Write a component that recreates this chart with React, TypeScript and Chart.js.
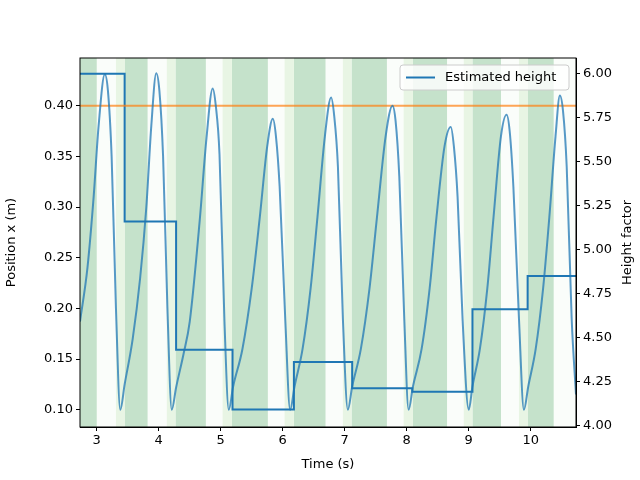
import React, { useEffect, useRef } from 'react';
import { Chart, registerables } from 'chart.js';
Chart.register(...registerables);

const xRange = [2.73, 10.73];
const xTicks = [3, 4, 5, 6, 7, 8, 9, 10];
const leftTicks = [0.1, 0.15, 0.2, 0.25, 0.3, 0.35, 0.4];
const rightTicks = [4.0, 4.25, 4.5, 4.75, 5.0, 5.25, 5.5, 5.75, 6.0];

// shaded phases [start, end]
const darkBands = [[2.73, 3.0], [3.45, 3.82], [4.27, 4.76], [5.18, 5.76], [6.18, 6.69], [7.11, 7.68], [8.1, 8.65], [9.06, 9.52], [9.95, 10.37]];
const lightBands = [[3.31, 3.45], [4.13, 4.27], [5.03, 5.18], [6.03, 6.18], [6.97, 7.11], [7.95, 8.1], [8.92, 9.06], [9.81, 9.95]];

const posT = [2.73, 2.85, 2.95, 3.03, 3.13, 3.18, 3.24, 3.31, 3.38,
	3.45, 3.58, 3.7, 3.8, 3.88, 3.96, 4.01, 4.07, 4.14, 4.21,
	4.28, 4.4, 4.5, 4.66, 4.77, 4.87, 4.92, 4.98, 5.06, 5.13,
	5.2, 5.35, 5.5, 5.63, 5.75, 5.84, 5.89, 5.95, 6.04, 6.12,
	6.19, 6.32, 6.45, 6.56, 6.68, 6.78, 6.83, 6.89, 6.97, 7.05,
	7.12, 7.26, 7.4, 7.52, 7.66, 7.77, 7.82, 7.88, 7.96, 8.03,
	8.1, 8.24, 8.37, 8.48, 8.61, 8.71, 8.76, 8.82, 8.9, 9.0,
	9.06, 9.18, 9.3, 9.4, 9.52, 9.61, 9.66, 9.72, 9.81, 9.89,
	9.96, 10.08, 10.2, 10.3, 10.4, 10.47, 10.52, 10.58, 10.66, 10.73];
const posX = [0.187, 0.24, 0.31, 0.38, 0.431, 0.415, 0.35, 0.2, 0.1,
	0.125, 0.17, 0.23, 0.3, 0.38, 0.432, 0.415, 0.35, 0.2, 0.1,
	0.122, 0.155, 0.187, 0.286, 0.368, 0.417, 0.4, 0.352, 0.187, 0.1,
	0.123, 0.16, 0.22, 0.29, 0.36, 0.387, 0.37, 0.32, 0.19, 0.1,
	0.123, 0.16, 0.22, 0.29, 0.37, 0.408, 0.39, 0.34, 0.19, 0.1,
	0.123, 0.16, 0.22, 0.29, 0.37, 0.4, 0.385, 0.33, 0.19, 0.1,
	0.123, 0.16, 0.22, 0.29, 0.36, 0.379, 0.36, 0.31, 0.19, 0.1,
	0.123, 0.16, 0.22, 0.29, 0.37, 0.391, 0.375, 0.32, 0.19, 0.1,
	0.123, 0.16, 0.22, 0.29, 0.37, 0.41, 0.395, 0.34, 0.19, 0.115];

const heightT = [2.73, 3.45, 4.28, 5.19, 6.18, 7.12, 8.09, 9.06, 9.95, 10.73];
const heightF = [6.0, 5.16, 4.43, 4.09, 4.36, 4.21, 4.19, 4.66, 4.85, 4.85];

const targetX = 0.4;

const font = { family: 'DejaVu Sans', size: 13 };

const bandsPlugin = {
	id: 'bands',
	beforeDatasetsDraw(chart: any) {
		const { ctx, chartArea: a, scales } = chart;
		const x = scales.x;
		ctx.save();
		ctx.fillStyle = 'rgb(250,253,250)';
		ctx.fillRect(a.left, a.top, a.right - a.left, a.bottom - a.top);
		const fill = (bands: number[][], color: string) => {
			ctx.fillStyle = color;
			bands.forEach(([s, e]) => {
				const l = x.getPixelForValue(s);
				const r = x.getPixelForValue(e);
				ctx.fillRect(l, a.top, r - l, a.bottom - a.top);
			});
		};
		fill(darkBands, 'rgb(197,226,203)');
		fill(lightBands, 'rgb(232,245,228)');
		ctx.restore();
	},
	afterDraw(chart: any) {
		const { ctx, chartArea: a } = chart;
		ctx.save();
		ctx.strokeStyle = 'black';
		ctx.lineWidth = 1;
		ctx.strokeRect(a.left, a.top, a.right - a.left, a.bottom - a.top);
		// right axis title, reading bottom to top
		ctx.save();
		ctx.translate(628, (a.top + a.bottom) / 2);
		ctx.rotate(-Math.PI / 2);
		ctx.fillStyle = 'black';
		ctx.font = '13px DejaVu Sans';
		ctx.textAlign = 'center';
		ctx.textBaseline = 'middle';
		ctx.fillText('Height factor', 0, 0);
		ctx.restore();
		// legend
		const bx = a.right - 176, by = a.top + 7;
		ctx.fillStyle = 'rgba(255,255,255,0.8)';
		ctx.strokeStyle = 'rgb(204,204,204)';
		ctx.beginPath();
		ctx.roundRect(bx, by, 169, 25, 3);
		ctx.fill();
		ctx.stroke();
		ctx.strokeStyle = '#1f77b4';
		ctx.lineWidth = 2;
		ctx.beginPath();
		ctx.moveTo(bx + 6, by + 12.5);
		ctx.lineTo(bx + 35, by + 12.5);
		ctx.stroke();
		ctx.fillStyle = 'black';
		ctx.font = '13px DejaVu Sans';
		ctx.textBaseline = 'middle';
		ctx.fillText('Estimated height', bx + 45, by + 13);
		ctx.restore();
	},
};

const App = () => {
	const ref = useRef<HTMLCanvasElement>(null);
	useEffect(() => {
		document.body.style.margin = '0';
		const tickCfg = (vals: number[]) => (scale: any) => {
			scale.ticks = vals.map((v) => ({ value: v }));
		};
		const chart = new Chart(ref.current!, {
			type: 'line',
			data: {
				datasets: [
					{
						data: posT.map((t, i) => ({ x: t, y: posX[i] })),
						borderColor: 'rgba(31,119,180,0.75)',
						borderWidth: 2,
						pointRadius: 0,
						cubicInterpolationMode: 'monotone',
						yAxisID: 'y',
					},
					{
						data: xRange.map((t) => ({ x: t, y: targetX })),
						borderColor: 'rgba(255,127,14,0.7)',
						borderWidth: 2,
						pointRadius: 0,
						yAxisID: 'y',
					},
					{
						label: 'Estimated height',
						data: heightT.map((t, i) => ({ x: t, y: heightF[i] })),
						borderColor: '#1f77b4',
						borderWidth: 2,
						pointRadius: 0,
						stepped: true,
						yAxisID: 'y1',
					},
				],
			},
			options: {
				responsive: false,
				animation: false,
				layout: { padding: { top: 58, right: 0, left: 0, bottom: 0 } },
				plugins: { legend: { display: false }, tooltip: { enabled: false } },
				scales: {
					x: {
						type: 'linear',
						min: xRange[0],
						max: xRange[1],
						afterBuildTicks: tickCfg(xTicks),
						afterFit: (s: any) => { s.height = 53; },
						grid: { drawOnChartArea: false, tickLength: 4, color: 'black' },
						border: { color: 'black' },
						ticks: { color: 'black', font, padding: 2, maxRotation: 0, callback: (v: any) => String(v) },
						title: { display: true, text: 'Time (s)', color: 'black', font, padding: { top: 0, bottom: 8 } },
					},
					y: {
						position: 'left',
						min: 0.083,
						max: 0.447,
						afterBuildTicks: tickCfg(leftTicks),
						afterFit: (s: any) => { s.width = 80; },
						grid: { drawOnChartArea: false, tickLength: 4, color: 'black' },
						border: { color: 'black' },
						ticks: { color: 'black', font, padding: 3, callback: (v: any) => Number(v).toFixed(2) },
						title: { display: true, text: 'Position x (m)', color: 'black', font, padding: 4 },
					},
					y1: {
						position: 'right',
						min: 3.99,
						max: 6.09,
						afterBuildTicks: tickCfg(rightTicks),
						afterFit: (s: any) => { s.width = 64; },
						grid: { drawOnChartArea: false, tickLength: 4, color: 'black' },
						border: { color: 'black' },
						ticks: { color: 'black', font, padding: 3, callback: (v: any) => Number(v).toFixed(2) },
					},
				},
			},
			plugins: [bandsPlugin],
		} as any);
		return () => chart.destroy();
	}, []);
	return <canvas ref={ref} width={640} height={480} />;
};

export default App;
